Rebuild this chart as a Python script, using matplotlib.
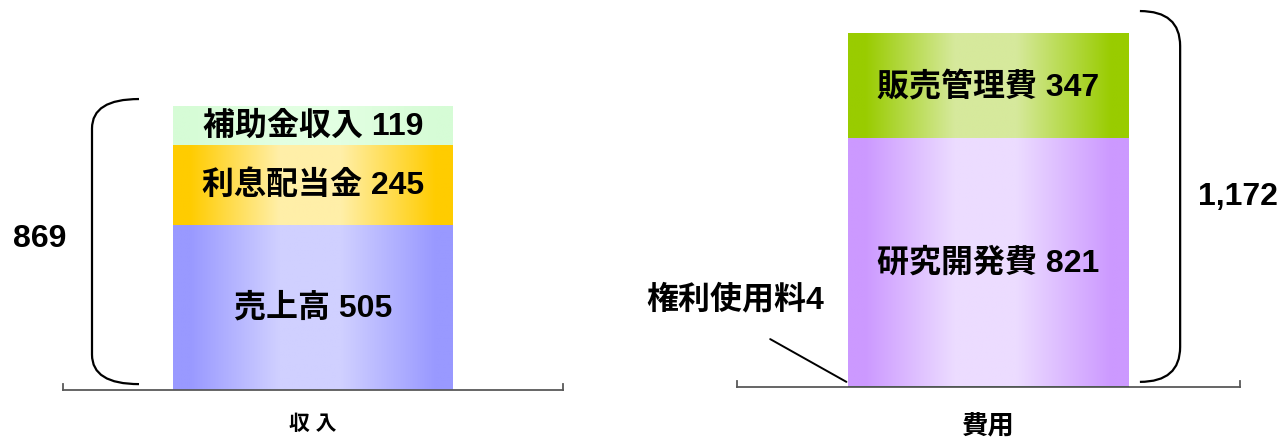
import numpy as np
import matplotlib.pyplot as plt
from matplotlib.colors import LinearSegmentedColormap
from matplotlib.path import Path
from matplotlib.patches import PathPatch

plt.rcParams['font.family'] = ['Liberation Sans', 'Noto Sans CJK JP']
plt.rcParams['font.weight'] = 'bold'

# data
categories = ['収 入', '費用']
income_labels = ['売上高', '利息配当金', '補助金収入']
income_values = [505, 245, 119]
expense_labels = ['権利使用料', '研究開発費', '販売管理費']
expense_values = [4, 821, 347]

# (edge colour, centre colour) for each segment
income_colors = [('#9999FF', '#D0D0FF'), ('#FFCC00', '#FFEFA8'), ('#D6FCD6', '#E2FFE2')]
expense_colors = [('#006633', '#006633'), ('#CC99FF', '#ECDCFF'), ('#99CC00', '#D6E99C')]


def gradient_bar(ax, x, bottom, height, width, dark, light):
    ax.bar(x, height, width, bottom=bottom, color='none', edgecolor='none')
    cmap = LinearSegmentedColormap.from_list(
        'g', [(0, dark), (0.06, dark), (0.38, light), (0.6, light), (0.94, dark), (1, dark)])
    ax.imshow(np.linspace(0, 1, 256).reshape(1, -1), cmap=cmap, aspect='auto',
              extent=[x - width / 2, x + width / 2, bottom, bottom + height],
              interpolation='bilinear', zorder=1)


def brace(ax, x_end, x_v, y0, y1, r):
    verts = [(x_end, y1), (x_v, y1), (x_v, y1 - r), (x_v, y0 + r), (x_v, y0), (x_end, y0)]
    codes = [Path.MOVETO, Path.CURVE3, Path.CURVE3, Path.LINETO, Path.CURVE3, Path.CURVE3]
    ax.add_patch(PathPatch(Path(verts, codes), fill=False, lw=1.6, ec='black', clip_on=False))


def setup(ax, ytop):
    ax.set_xlim(-0.5, 0.5)
    ax.set_ylim(0, ytop)
    for s in ['left', 'right', 'top']:
        ax.spines[s].set_visible(False)
    ax.spines['bottom'].set_color('#595959')
    ax.spines['bottom'].set_linewidth(1.3)
    ax.set_xticks([])
    ax.set_yticks([])
    for xe in [0, 1]:
        ax.plot([xe, xe], [0, 0.016], transform=ax.transAxes, color='#595959', lw=1.3, clip_on=False)
    ax.patch.set_alpha(0)


fig = plt.figure(figsize=(12.81, 4.39), dpi=100)
W, H = 1281, 439

# ---- income ----
ax1 = fig.add_axes([63 / W, (H - 391) / H, 500 / W, 391 / H])
bw = 0.56
bottom = 0
for lab, val, (d, l) in zip(income_labels, income_values, income_colors):
    gradient_bar(ax1, 0, bottom, val, bw, d, l)
    ax1.text(0, bottom + val / 2, f'{lab} {val}', ha='center', va='center', fontsize=23, zorder=3)
    bottom += val
total1 = sum(income_values)
setup(ax1, 1196)
brace(ax1, -0.348, -0.442, 18, total1 + 21, 90)
ax1.text(-0.546, (18 + total1 + 21) / 2 + 10, f'{total1:,}', ha='center', va='center', fontsize=23)
ax1.text(0, -0.085, categories[0], transform=ax1.get_xaxis_transform(),
         ha='center', va='center', fontsize=15)

# ---- expenses ----
ax2 = fig.add_axes([737 / W, (H - 388) / H, 503 / W, 388 / H])
bw2 = 0.557
bottom = 0
for lab, val, (d, l) in zip(expense_labels, expense_values, expense_colors):
    gradient_bar(ax2, 0, bottom, val, bw2, d, l)
    if val > 50:
        ax2.text(0, bottom + val / 2, f'{lab} {val}', ha='center', va='center', fontsize=23, zorder=3)
    bottom += val
total2 = sum(expense_values)
setup(ax2, 1288)
brace(ax2, 0.301, 0.381, 17, total2 + 76, 116)
ax2.text(0.496, (17 + total2 + 76) / 2, f'{total2:,}', ha='center', va='center', fontsize=23)
ax2.text(-0.504, 292, f'{expense_labels[0]}{expense_values[0]}', ha='center', va='center',
         fontsize=23, clip_on=False)
ax2.annotate('', xy=(-bw2 / 2 - 0.004, expense_values[0] + 13), xytext=(-0.434, 159),
             arrowprops=dict(arrowstyle='-', lw=1.4, color='black', shrinkA=0, shrinkB=0))
ax2.text(0, -0.098, categories[1], transform=ax2.get_xaxis_transform(),
         ha='center', va='center', fontsize=19)

fig.savefig('out.png', dpi=100)
